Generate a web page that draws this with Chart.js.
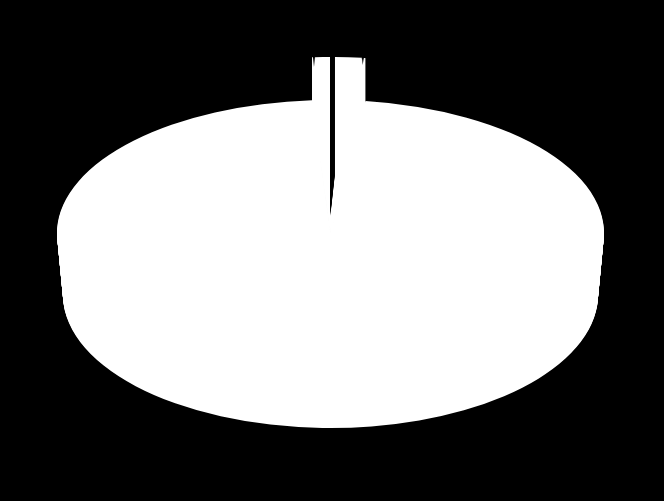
<!DOCTYPE html>
<html>
<head>
<meta charset="utf-8">
<script src="https://cdn.jsdelivr.net/npm/chart.js@4"></script>
<style>
  html, body { margin: 0; padding: 0; background: #000; }
  canvas { display: block; }
</style>
</head>
<body>
<canvas id="pieChart" width="664" height="501"></canvas>
<script>
// slices in degrees, clockwise from the left edge of the raised block
const categories = ['Edge A', 'Notch A', 'Block A', 'Slit', 'Block B', 'Notch B', 'Edge B', 'Main'];
const shares = [0.21, 0.42, 3.25, 0.94, 5.61, 0.42, 0.38, 348.77];

const startAngle = -3.88;
const MAIN = 7, SLIT = 3, NOTCH_A = 1, NOTCH_B = 5;

function place(ctx, el, cx, cy, rx, ry, lean) {
  const r = el.outerRadius;
  ctx.save();
  ctx.translate(cx, cy);
  ctx.transform(rx / r, 0, (lean || 0) / r, ry / r, 0, 0);
  ctx.translate(-el.x, -el.y);
  el.draw(ctx);
  ctx.restore();
}

// tilts the pie and gives it depth, the library's arcs are redrawn layer by layer
const tiltPlugin = {
  id: 'tilt',
  beforeDatasetsDraw(chart) {
    const ctx = chart.ctx;
    const arcs = chart.getDatasetMeta(0).data;

    // side wall of the big slice, slightly narrower towards the bottom
    for (let dy = 62; dy >= 0; dy--) {
      place(ctx, arcs[MAIN], 330.5, 233 + dy, 273.5 - dy * 6 / 62, 133);
    }

    // small slices raised above the rim, started a little low to close the seams
    for (let dy = -4; dy <= 43; dy++) {
      arcs.forEach((el, i) => {
        if (i !== MAIN) place(ctx, el, 330.5, 233 - dy, 273.5, 133);
      });
    }

    // punch the dark cuts out so the page shows through
    ctx.save();
    ctx.globalCompositeOperation = 'destination-out';
    for (let dy = 0; dy <= 125; dy++) {
      place(ctx, arcs[SLIT], 330.3, 216 - dy, 273.5, 41);
    }
    place(ctx, arcs[NOTCH_A], 314, 67, 273.5, 10, -16.5);
    place(ctx, arcs[NOTCH_B], 362.7, 65, 273.5, 8, 32.2);
    ctx.restore();
    return false;
  }
};

new Chart(document.getElementById('pieChart'), {
  type: 'pie',
  data: {
    labels: categories,
    datasets: [{
      data: shares,
      backgroundColor: '#ffffff',
      borderWidth: 0
    }]
  },
  options: {
    responsive: false,
    animation: false,
    devicePixelRatio: 1,
    rotation: startAngle,
    events: [],
    plugins: {
      legend: { display: false },
      tooltip: { enabled: false }
    }
  },
  plugins: [tiltPlugin]
});
</script>
</body>
</html>
